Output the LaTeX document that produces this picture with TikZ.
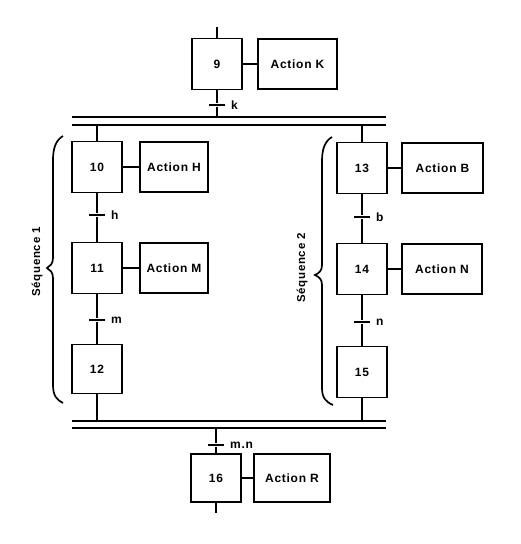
\documentclass[tikz,border=0pt]{standalone}
\usepackage{fontspec}
\usepackage{tikz}
\usetikzlibrary{positioning}
\newfontfamily\grafcetfont[LetterSpace=6]{Liberation Sans}
\newcommand{\grafcet}{\grafcetfont\bfseries\fontsize{12}{14}\selectfont}

\begin{document}
\begin{tikzpicture}[
    x=1pt, y=-1pt,
    etape/.style={rectangle, draw=black, line width=1.6pt, minimum width=50pt, minimum height=51pt, inner sep=0pt, font=\grafcet},
    action/.style={rectangle, draw=black, line width=1.6pt, minimum height=50pt, inner sep=0pt, font=\grafcet},
    transition/.style={rectangle, fill=black, minimum width=16pt, minimum height=2.8pt, inner sep=0pt,
        label={[font=\grafcet, label distance=2.5pt]right:#1}},
    link/.style={line width=1.5pt},
    bar/.style={line width=1.6pt},
    accolade/.style={line width=1.7pt},
    seq label/.style={font=\grafcetfont\bfseries\fontsize{11.5}{13}\selectfont, rotate=90}
]

\fill[white] (0,0) rectangle (520,544);
\useasboundingbox (0,0) rectangle (520,544);

% Etapes et actions
\node[etape] (e9)  at (217,64)  {9};
\node[action, minimum width=79pt] (a9) at (297.5,64) {Action K};

\node[etape] (e10) at (97,167)  {10};
\node[action, minimum width=68pt] (a10) at (174,167) {Action H};
\node[etape] (e11) at (97,268)  {11};
\node[action, minimum width=68pt] (a11) at (174,268) {Action M};
\node[etape, minimum height=49pt] (e12) at (97,369)  {12};

\node[etape] (e13) at (362,168) {13};
\node[action, minimum width=81pt] (a13) at (442.5,168) {Action B};
\node[etape] (e14) at (362,269) {14};
\node[action, minimum width=80pt] (a14) at (442,269) {Action N};
\node[etape] (e15) at (362,372) {15};

\node[etape, minimum height=48pt] (e16) at (216,478) {16};
\node[action, minimum width=76pt, minimum height=48pt] (a16) at (292,478) {Action R};

% Transitions
\node[transition=k]   (tk)  at (217,105) {};
\node[transition=h]   (th)  at (97,215)  {};
\node[transition=m]   (tm)  at (97,320)  {};
\node[transition=b]   (tb)  at (362,217) {};
\node[transition=n]   (tn)  at (362,322) {};
\node[transition=m.n] (tmn) at (216,445) {};

% Doubles barres
\coordinate (bh1w) at (72,117);  \coordinate (bh1e) at (386,117);
\coordinate (bh2w) at (72,125);  \coordinate (bh2e) at (386,125);
\coordinate (bb1w) at (72,421);  \coordinate (bb1e) at (386,421);
\coordinate (bb2w) at (72,428);  \coordinate (bb2e) at (386,428);
\draw[bar] (bh1w) -- (bh1e);
\draw[bar] (bh2w) -- (bh2e);
\draw[bar] (bb1w) -- (bb1e);
\draw[bar] (bb2w) -- (bb2e);

% Liaisons
\coordinate (in9) at (217,27);
\coordinate (out16) at (216,513);
\draw[link] (in9) -- (e9);
\draw[link] (e9) -- (tk) -- (tk |- bh1w);
\draw[link] (e10 |- bh2w) -- (e10);
\draw[link] (e13 |- bh2w) -- (e13);
\draw[link] (e10) -- (th) -- (e11) -- (tm) -- (e12) -- (e12 |- bb1w);
\draw[link] (e13) -- (tb) -- (e14) -- (tn) -- (e15) -- (e15 |- bb1w);
\draw[link] (tmn |- bb2w) -- (tmn) -- (e16) -- (out16);
\foreach \e/\a in {e9/a9, e10/a10, e11/a11, e13/a13, e14/a14, e16/a16}
    \draw[link] (\e) -- (\a);

% Accolades
\draw[accolade] (63,136) .. controls (56,140) and (53,148) .. (53,160) -- (53,258)
    .. controls (53,264) and (50,266) .. (47,268) .. controls (50,270) and (53,272) .. (53,278)
    -- (53,385) .. controls (53,396) and (57,400) .. (63,403);
\draw[accolade] (332,137) .. controls (325,141) and (322,149) .. (322,161) -- (322,265)
    .. controls (322,271) and (319,273) .. (315,275) .. controls (319,277) and (322,279) .. (322,285)
    -- (322,388) .. controls (322,398) and (326,402) .. (333,405);
\node[seq label] (s1) at (37,262) {Séquence 1};
\node[seq label] (s2) at (302,268) {Séquence 2};

\end{tikzpicture}
\end{document}
